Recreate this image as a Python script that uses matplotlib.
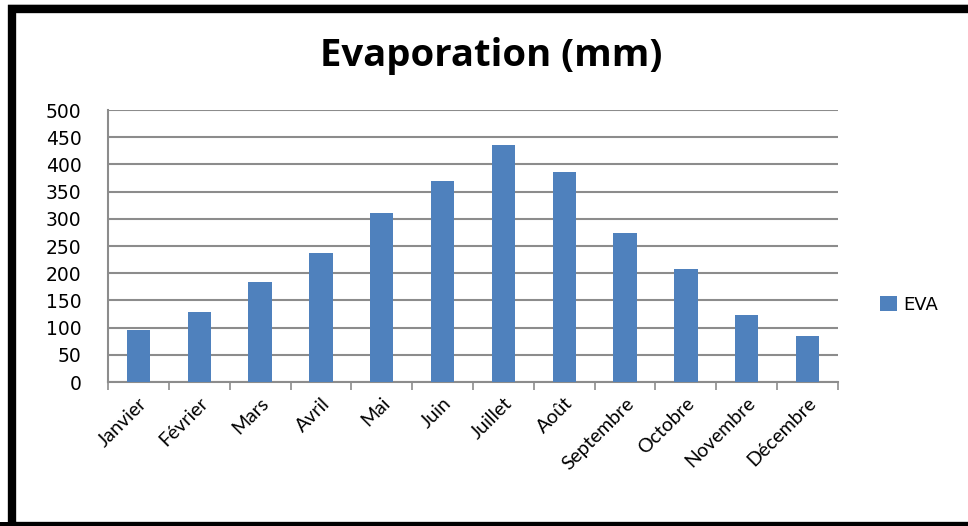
import matplotlib.pyplot as plt
from matplotlib.patches import Rectangle

# Monthly evaporation (mm)
MONTHS = ["Janvier", "Février", "Mars", "Avril", "Mai", "Juin", "Juillet",
          "Août", "Septembre", "Octobre", "Novembre", "Décembre"]
EVA = [95, 128, 184, 237, 310, 370, 436, 386, 273, 207, 124, 85]
Y_TICKS = [0, 50, 100, 150, 200, 250, 300, 350, 400, 450, 500]

BAR_COLOR = "#4F81BD"
GRID_COLOR = "#8C8C8C"

fig = plt.figure(figsize=(9.68, 5.26), dpi=100)
ax = fig.add_axes([108 / 968, 1 - 382 / 526, 730 / 968, 272 / 526])

x = list(range(len(MONTHS)))
ax.bar(x, EVA, width=0.385, color=BAR_COLOR, label="EVA", zorder=3)

ax.set_xlim(-0.5, len(MONTHS) - 0.5)
ax.set_ylim(0, 500)
ax.set_yticks(Y_TICKS)
ax.set_yticklabels([str(v) for v in Y_TICKS], fontsize=13.5, family="DejaVu Sans")
ax.tick_params(axis="y", length=0, pad=19)
ax.yaxis.grid(True, color=GRID_COLOR, linewidth=1.5, zorder=0)

# category labels at bar centres, tick marks between categories
ax.set_xticks(x)
ax.set_xticklabels(MONTHS, rotation=45, ha="right", rotation_mode="anchor",
                   fontsize=14, family="Lato")
ax.tick_params(axis="x", length=0, pad=9)
ax.set_xticks([i - 0.5 for i in range(len(MONTHS) + 1)], minor=True)
ax.tick_params(axis="x", which="minor", length=6, width=1.2, color=GRID_COLOR)

for side in ["top", "right"]:
    ax.spines[side].set_visible(False)
for side in ["left", "bottom"]:
    ax.spines[side].set_color(GRID_COLOR)
    ax.spines[side].set_linewidth(1.5)

fig.text(491 / 968, 1 - 56 / 526, "Evaporation (mm)", ha="center", va="center",
         fontsize=27.5, fontweight="bold", family="Open Sans")

fig.legend(loc="center left", bbox_to_anchor=(864 / 968, 1 - 305 / 526),
           frameon=False, handlelength=0.9, handleheight=0.9,
           handletextpad=0.4, prop={"family": "DejaVu Sans", "size": 13})

# thick black frame, right edge runs off the image
fig.add_artist(Rectangle((12 / 968, 0), 980 / 968, 517 / 526,
                         transform=fig.transFigure, fill=False,
                         edgecolor="black", linewidth=6))
fig.add_artist(Rectangle((0, 0), 1, 4 / 526, transform=fig.transFigure,
                         color="black", linewidth=0))
# faint grey line above the frame
fig.add_artist(Rectangle((8 / 968, 1 - 5 / 526), 1, 1.5 / 526,
                         transform=fig.transFigure, color="#B0B0B0",
                         linewidth=0))

fig.savefig("out.png", dpi=100)
